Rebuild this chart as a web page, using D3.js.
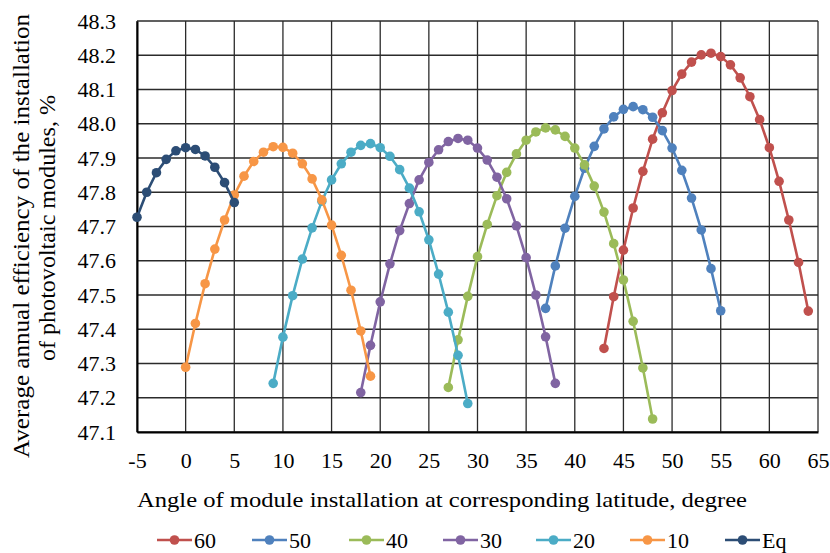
<!DOCTYPE html>
<html>
<head>
<meta charset="utf-8">
<script src="https://cdn.jsdelivr.net/npm/d3@7"></script>
<style>
  body { margin: 0; background: #fff; }
  text { font-family: 'Liberation Serif', 'Times New Roman', serif; fill: #000; }
</style>
</head>
<body>
<div id="chart"></div>
<script>
// series names (legend order) and the angle each curve starts at
const seriesNames = ["60", "50", "40", "30", "20", "10", "Eq"];
const seriesStart = [43, 37, 27, 18, 9, 0, -5];
const seriesColors = ["#C0504D", "#4F81BD", "#9BBB59", "#8064A2", "#4BACC6", "#F79646", "#2C4D75"];

// efficiency values, one per degree from the start angle
const lat60 = [47.344, 47.495, 47.631, 47.754, 47.861, 47.955, 48.032, 48.097, 48.145, 48.180, 48.201,
  48.206, 48.196, 48.172, 48.134, 48.079, 48.012, 47.930, 47.832, 47.719, 47.595, 47.453];
const lat50 = [47.461, 47.585, 47.695, 47.788, 47.870, 47.934, 47.985, 48.020, 48.042, 48.050,
  48.041, 48.019, 47.980, 47.929, 47.864, 47.783, 47.690, 47.577, 47.454];
const lat40 = [47.230, 47.369, 47.496, 47.612, 47.706, 47.790, 47.858, 47.912, 47.952, 47.976, 47.988,
  47.982, 47.963, 47.929, 47.880, 47.818, 47.742, 47.650, 47.544, 47.423, 47.287, 47.138];
const lat30 = [47.215, 47.353, 47.480, 47.591, 47.688, 47.767, 47.836, 47.887, 47.924, 47.948, 47.957,
  47.952, 47.929, 47.894, 47.844, 47.781, 47.702, 47.609, 47.500, 47.378, 47.242];
const lat20 = [47.242, 47.377, 47.498, 47.605, 47.696, 47.774, 47.836, 47.883, 47.917, 47.937, 47.942,
  47.930, 47.905, 47.866, 47.812, 47.743, 47.661, 47.561, 47.450, 47.324, 47.183];
const lat10 = [47.289, 47.417, 47.533, 47.634, 47.719, 47.792, 47.847, 47.890, 47.917, 47.933,
  47.931, 47.914, 47.883, 47.839, 47.778, 47.704, 47.616, 47.514, 47.395, 47.263];
const latEq = [47.727, 47.800, 47.857, 47.896, 47.921, 47.930, 47.925, 47.906, 47.873, 47.828, 47.770];

const xTicks = [-5, 0, 5, 10, 15, 20, 25, 30, 35, 40, 45, 50, 55, 60, 65];
const yTicks = [47.1, 47.2, 47.3, 47.4, 47.5, 47.6, 47.7, 47.8, 47.9, 48.0, 48.1, 48.2, 48.3];

const allValues = [lat60, lat50, lat40, lat30, lat20, lat10, latEq];
const series = seriesNames.map((name, i) => ({
  name: name,
  color: seriesColors[i],
  points: allValues[i].map((v, j) => ({ x: seriesStart[i] + j, y: v }))
}));

const width = 830;
const height = 553;
const margin = { top: 21, left: 137, bottom: 121, right: 12 };
const iwidth = width - margin.left - margin.right;
const iheight = height - margin.top - margin.bottom;
const serif = "'Liberation Serif', 'Times New Roman', serif";

const svg = d3.select("#chart").append("svg")
  .attr("width", width)
  .attr("height", height);

const g = svg.append("g")
  .attr("transform", `translate(${margin.left},${margin.top})`);

const x = d3.scaleLinear().domain([-5, 65]).range([0, iwidth]);
const y = d3.scaleLinear().domain([47.1, 48.3]).range([iheight, 0]);

// gridlines
g.append("g").selectAll("line").data(yTicks).join("line")
  .attr("x1", 0).attr("x2", iwidth)
  .attr("y1", d => y(d)).attr("y2", d => y(d))
  .attr("stroke", "#2b2b2b").attr("stroke-width", 1.3);
g.append("g").selectAll("line").data(xTicks).join("line")
  .attr("x1", d => x(d)).attr("x2", d => x(d))
  .attr("y1", 0).attr("y2", iheight)
  .attr("stroke", "#2b2b2b").attr("stroke-width", 1.3);

// axes
const xAxis = g.append("g")
  .attr("transform", `translate(0,${iheight})`)
  .call(d3.axisBottom(x).tickValues(xTicks).tickFormat(d => String(d)).tickSize(0).tickPadding(20));
const yAxis = g.append("g")
  .call(d3.axisLeft(y).tickValues(yTicks).tickFormat(d3.format(".1f")).tickSize(0).tickPadding(21));
[xAxis, yAxis].forEach(a => {
  a.attr("font-family", serif).attr("font-size", 22);
  a.selectAll("text").attr("fill", "#000");
  a.select(".domain").attr("stroke", "#000").attr("stroke-width", 2);
});

// lines and markers
const line = d3.line().x(d => x(d.x)).y(d => y(d.y));
series.forEach(s => {
  const sg = g.append("g");
  sg.append("path")
    .datum(s.points)
    .attr("fill", "none")
    .attr("stroke", s.color)
    .attr("stroke-width", 2.6)
    .attr("d", line);
  sg.selectAll("circle").data(s.points).join("circle")
    .attr("cx", d => x(d.x))
    .attr("cy", d => y(d.y))
    .attr("r", 4.8)
    .attr("fill", s.color);
});

// axis titles
svg.append("text")
  .attr("x", 442).attr("y", 507)
  .attr("text-anchor", "middle")
  .attr("textLength", 610).attr("lengthAdjust", "spacingAndGlyphs")
  .style("font-size", "22px")
  .text("Angle of module installation at corresponding latitude, degree");

const yt = svg.append("text")
  .attr("transform", "rotate(-90)")
  .attr("text-anchor", "middle")
  .style("font-size", "23px");
yt.append("tspan").attr("x", -236).attr("y", 29)
  .attr("textLength", 444).attr("lengthAdjust", "spacingAndGlyphs")
  .text("Average annual efficiency of the installation");
yt.append("tspan").attr("x", -228).attr("y", 55)
  .attr("textLength", 266).attr("lengthAdjust", "spacingAndGlyphs")
  .text("of photovoltaic modules, %");

// legend
const legendX = [157, 252, 349, 443, 536, 630, 725];
const legend = svg.append("g").attr("transform", "translate(0,540)");
series.forEach((s, i) => {
  const lg = legend.append("g").attr("transform", `translate(${legendX[i]},0)`);
  lg.append("line").attr("x1", 0).attr("x2", 35).attr("y1", 0).attr("y2", 0)
    .attr("stroke", s.color).attr("stroke-width", 2.6);
  lg.append("circle").attr("cx", 17.5).attr("cy", 0).attr("r", 4.8).attr("fill", s.color);
  lg.append("text").attr("x", 37).attr("y", 7.5)
    .style("font-size", "22px")
    .text(s.name);
});
</script>
</body>
</html>
